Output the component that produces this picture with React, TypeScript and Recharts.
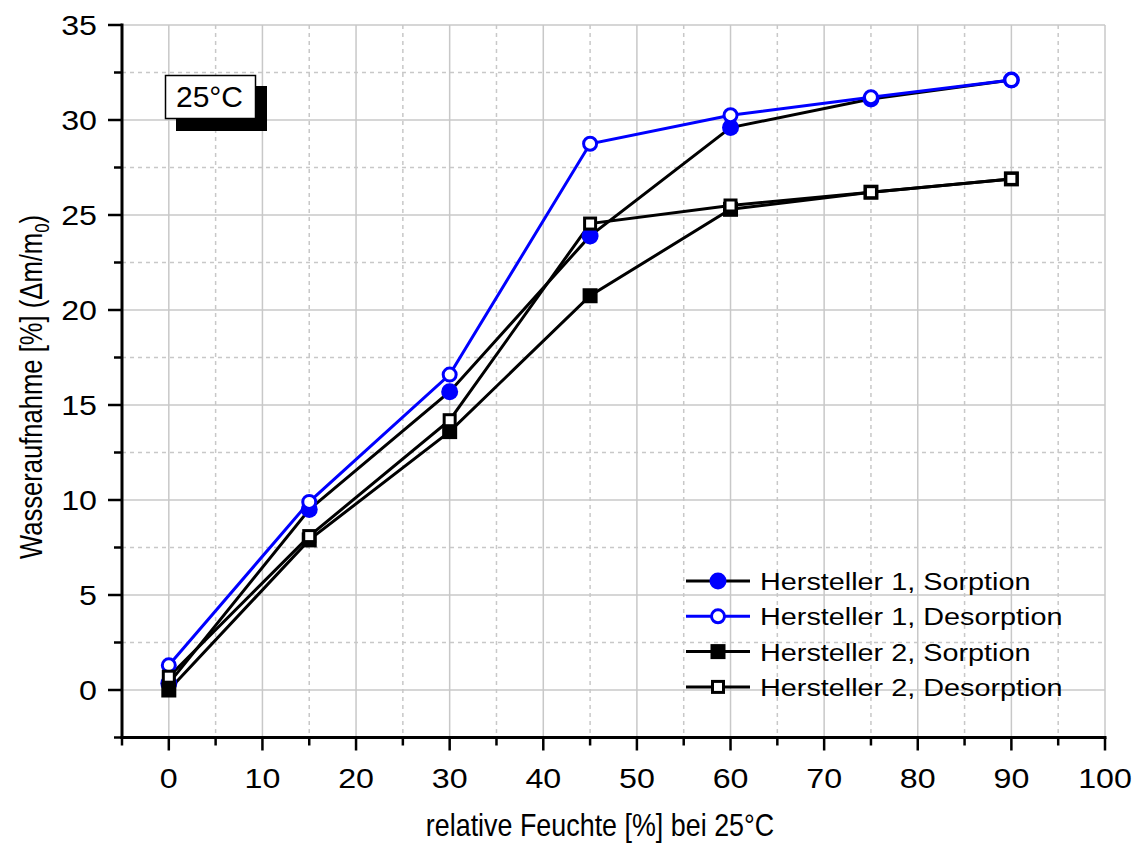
import { LineChart, Line, XAxis, YAxis, CartesianGrid, Legend } from 'recharts';

const HUMIDITY = [0, 15, 30, 45, 60, 75, 90];
const H1_SORPTION = [0.35, 9.5, 15.7, 23.9, 29.6, 31.1, 32.1];
const H1_DESORPTION = [1.3, 9.9, 16.6, 28.75, 30.25, 31.2, 32.1];
const H2_SORPTION = [0, 7.9, 13.6, 20.75, 25.3, 26.2, 26.9];
const H2_DESORPTION = [0.7, 8.1, 14.2, 24.55, 25.5, 26.2, 26.9];

const X_MAJOR = [0, 10, 20, 30, 40, 50, 60, 70, 80, 90, 100];
const X_MINOR = [5, 15, 25, 35, 45, 55, 65, 75, 85, 95];
const X_TICKS = [-5, ...X_MAJOR, ...X_MINOR].sort((a, b) => a - b);
const Y_MAJOR = [0, 5, 10, 15, 20, 25, 30, 35];
const Y_MINOR = [2.5, 7.5, 12.5, 17.5, 22.5, 27.5, 32.5];
const Y_TICKS = [-2.5, ...Y_MAJOR, ...Y_MINOR].sort((a, b) => a - b);

const BLUE = '#0000ff';
const FONT = '"Liberation Sans", Arial, sans-serif';

const data = HUMIDITY.map((x, i) => ({
  x,
  h1s: H1_SORPTION[i],
  h1d: H1_DESORPTION[i],
  h2s: H2_SORPTION[i],
  h2d: H2_DESORPTION[i],
}));

type Marker = 'filledCircle' | 'openCircle' | 'filledSquare' | 'openSquare';

function drawMarker(kind: Marker, cx: number, cy: number, key?: string | number) {
  switch (kind) {
    case 'filledCircle':
      return <circle key={key} cx={cx} cy={cy} r={8.5} fill={BLUE} />;
    case 'openCircle':
      return <circle key={key} cx={cx} cy={cy} r={6.5} fill="#fff" stroke={BLUE} strokeWidth={3} />;
    case 'filledSquare':
      return <rect key={key} x={cx - 7.5} y={cy - 7.5} width={15} height={15} fill="#000" />;
    default:
      return <rect key={key} x={cx - 5.5} y={cy - 5.5} width={11} height={11} fill="#fff" stroke="#000" strokeWidth={3} />;
  }
}

const dotFor = (kind: Marker) => (p: any) => drawMarker(kind, p.cx, p.cy, `${kind}-${p.index}`);

const SERIES: { key: string; name: string; color: string; marker: Marker }[] = [
  { key: 'h1s', name: 'Hersteller 1, Sorption', color: '#000', marker: 'filledCircle' },
  { key: 'h1d', name: 'Hersteller 1, Desorption', color: BLUE, marker: 'openCircle' },
  { key: 'h2s', name: 'Hersteller 2, Sorption', color: '#000', marker: 'filledSquare' },
  { key: 'h2d', name: 'Hersteller 2, Desorption', color: '#000', marker: 'openSquare' },
];

const BottomTick = ({ x, y, payload }: any) => {
  const major = payload.value % 10 === 0;
  return (
    <g>
      <line x1={x} x2={x} y1={y} y2={y + (major ? 13 : 8)} stroke="#000" strokeWidth={2.5} />
      {major && (
        <text transform={`translate(${x},${y + 50}) scale(1.15,1)`} textAnchor="middle"
          fontSize={28} fontFamily={FONT} fill="#000">{payload.value}</text>
      )}
    </g>
  );
};

const TopTick = ({ x, y, payload }: any) => {
  const major = payload.value % 10 === 0;
  return <line x1={x} x2={x} y1={y} y2={y + (major ? 13 : 7)} stroke="#000" strokeWidth={2.5} />;
};

const LeftTick = ({ x, y, payload }: any) => {
  const major = payload.value % 5 === 0;
  return (
    <g>
      <line x1={x - (major ? 14 : 8)} x2={x} y1={y} y2={y} stroke="#000" strokeWidth={2.5} />
      {major && (
        <text transform={`translate(${x - 25},${y + 10}) scale(1.15,1)`} textAnchor="end"
          fontSize={28} fontFamily={FONT} fill="#000">{payload.value}</text>
      )}
    </g>
  );
};

const RightTick = ({ x, y, payload }: any) => {
  const major = payload.value % 5 === 0;
  return <line x1={x - (major ? 13 : 7)} x2={x} y1={y} y2={y} stroke="#000" strokeWidth={2.5} />;
};

const LegendBox = () => (
  <svg width={400} height={140} style={{ display: 'block', overflow: 'visible' }}>
    {SERIES.map((s, i) => {
      const cy = 18 + i * 35.3;
      return (
        <g key={s.key}>
          <line x1={6} x2={70} y1={cy} y2={cy} stroke={s.color} strokeWidth={3} />
          {drawMarker(s.marker, 38, cy)}
          <text transform={`translate(80,${cy + 9}) scale(1.2,1)`} fontSize={24} fontFamily={FONT} fill="#000">
            {s.name}
          </text>
        </g>
      );
    })}
  </svg>
);

export default function App() {
  return (
    <div style={{ position: 'absolute', left: 0, top: 0, width: 1135, height: 843, background: '#fff', fontFamily: FONT }}>
      <LineChart width={1135} height={843} data={data} margin={{ top: 25, right: 30, left: 0, bottom: 0 }}>
        <CartesianGrid horizontalValues={Y_MAJOR} verticalValues={X_MAJOR} stroke="#c8c8c8" strokeWidth={1.5} />
        <CartesianGrid horizontalValues={Y_MINOR} verticalValues={X_MINOR} stroke="#c8c8c8" strokeWidth={1.5} strokeDasharray="4 4" />
        <XAxis dataKey="x" type="number" domain={[-5, 100]} ticks={X_TICKS} interval={0} height={105.5}
          tickSize={0} tickMargin={0} tickLine={false} tick={<BottomTick />}
          axisLine={{ stroke: '#000', strokeWidth: 3, strokeLinecap: 'square' }} />
        <XAxis xAxisId="top" orientation="top" type="number" domain={[-5, 100]} ticks={X_TICKS} interval={0} height={0}
          tickSize={0} tickMargin={0} tickLine={false} tick={<TopTick />}
          axisLine={{ stroke: '#000', strokeWidth: 3, strokeLinecap: 'square' }} />
        <YAxis type="number" domain={[-2.5, 35]} ticks={Y_TICKS} interval={0} width={122}
          tickSize={0} tickMargin={0} tickLine={false} tick={<LeftTick />}
          axisLine={{ stroke: '#000', strokeWidth: 3, strokeLinecap: 'square' }} />
        <YAxis yAxisId="right" orientation="right" type="number" domain={[-2.5, 35]} ticks={Y_TICKS} interval={0} width={0}
          tickSize={0} tickMargin={0} tickLine={false} tick={<RightTick />}
          axisLine={{ stroke: '#000', strokeWidth: 3, strokeLinecap: 'square' }} />
        {SERIES.map(s => (
          <Line key={s.key} dataKey={s.key} name={s.name} type="linear" stroke={s.color} strokeWidth={3}
            dot={dotFor(s.marker)} activeDot={false} isAnimationActive={false} />
        ))}
        <Legend layout="vertical" align="center" verticalAlign="middle" content={() => <LegendBox />}
          wrapperStyle={{ position: 'absolute', left: 680, top: 563, width: 400, height: 140 }} />
      </LineChart>

      <svg width={1135} height={843} style={{ position: 'absolute', left: 0, top: 0, pointerEvents: 'none' }}>
        <text transform="translate(600,836) scale(0.84,1)" textAnchor="middle" fontSize={32} fontFamily={FONT} fill="#000">
          relative Feuchte [%] bei 25°C
        </text>
        <text transform="translate(42,387) rotate(-90) scale(0.8,1)" textAnchor="middle" fontSize={32} fontFamily={FONT} fill="#000">
          Wasseraufnahme [%] (Δm/m<tspan fontSize={21} dy={7}>0</tspan><tspan dy={-7}>)</tspan>
        </text>
        <rect x={176} y={86} width={91} height={45} fill="#000" />
        <rect x={165.5} y={75.5} width={90} height={43} fill="#fff" stroke="#000" strokeWidth={1.5} />
        <text x={176} y={107} fontSize={30} fontFamily={FONT} fill="#000">25°C</text>
      </svg>
    </div>
  );
}
